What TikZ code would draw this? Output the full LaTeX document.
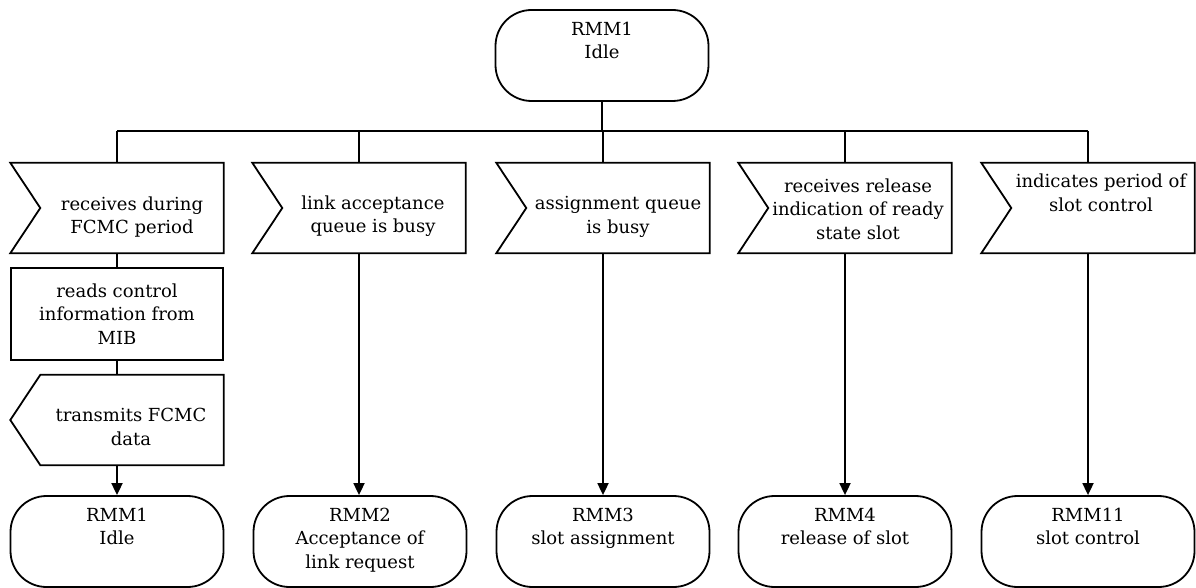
\documentclass[tikz,border=0pt]{standalone}
\usepackage{fontspec}
\setmainfont{DejaVu Serif}
\usetikzlibrary{arrows.meta,calc}
\newcommand\insigshape[1]{\draw[line] (#1.north west) -- (#1.north east) -- (#1.south east) -- (#1.south west) -- ($(#1.west)+(30,0)$) -- cycle;}
\newcommand\outsigshape[1]{\draw[line] ($(#1.north west)+(30,0)$) -- (#1.north east) -- (#1.south east) -- ($(#1.south west)+(30,0)$) -- (#1.west) -- cycle;}
\begin{document}
\begin{tikzpicture}[x=1pt,y=-1pt,
  line/.style={line width=1.8pt, line join=miter},
  txt/.style={font=\fontsize{18}{23.5}\selectfont, align=center, inner sep=0pt},
  sigbox/.style={minimum width=213pt, minimum height=90pt, inner sep=0pt},
  statebox/.style={draw, line width=1.8pt, rounded corners=36pt, minimum width=213pt, minimum height=91pt, inner sep=0pt, txt},
  procbox/.style={draw, line width=1.8pt, minimum width=212pt, minimum height=92pt, inner sep=0pt, txt},
  arr/.style={line, -{Triangle[length=12pt,width=11pt]}}
]
\useasboundingbox (0,0) rectangle (1196,588);

% top state
\node[statebox] (s0) at (602,55.5) {RMM1\\Idle\\\strut};

% input signals
\node[sigbox] (in1) at (117,208) {};
\node[sigbox] (in2) at (359,208) {};
\node[sigbox] (in3) at (603,208) {};
\node[sigbox] (in4) at (845,208) {};
\node[sigbox] (in5) at (1088,208) {};
\insigshape{in1}
\insigshape{in2}
\insigshape{in3}
\insigshape{in4}
\insigshape{in5}
\node[txt] (in1t) at (132,217) {receives during\\FCMC period};
\node[txt] (in2t) at (373,216) {link acceptance\\queue is busy};
\node[txt] (in3t) at (618,217) {assignment queue\\is busy};
\node[txt] (in4t) at (858,209) {receives release\\indication of ready\\state slot};
\node[txt] (in5t) at (1101,193) {indicates period of\\slot control};

% column 1 chain
\node[procbox] (p1) at (117,314) {reads control\\information from\\MIB};
\node[sigbox] (o1) at (117,420) {};
\outsigshape{o1}
\node[txt] (o1t) at (131,427) {transmits FCMC\\data};

% bottom states
\node[statebox] (s1) at (117,541.5) {RMM1\\Idle\\\strut};
\node[statebox] (s2) at (360,541.5) {RMM2\\Acceptance of\\link request\strut};
\node[statebox] (s3) at (603,541.5) {RMM3\\slot assignment\\\strut};
\node[statebox] (s4) at (845,541.5) {RMM4\\release of slot\\\strut};
\node[statebox] (s5) at (1088,541.5) {RMM11\\slot control\\\strut};

% bus
\coordinate (bus) at (0,131);
\draw[line] (s0.south) -- (s0.south |- bus);
\draw[line] (in1.north |- bus) -- (in5.north |- bus);
\foreach \k in {1,...,5}{
  \draw[line] (in\k.north |- bus) -- (in\k.north);
}

% connectors
\draw[line] (in1.south) -- (p1.north);
\draw[line] (p1.south) -- (o1.north);
\draw[arr] (o1.south) -- (s1.north);
\draw[arr] (in2.south) -- (in2.south |- s2.north);
\draw[arr] (in3.south) -- (in3.south |- s3.north);
\draw[arr] (in4.south) -- (in4.south |- s4.north);
\draw[arr] (in5.south) -- (in5.south |- s5.north);
\end{tikzpicture}
\end{document}
